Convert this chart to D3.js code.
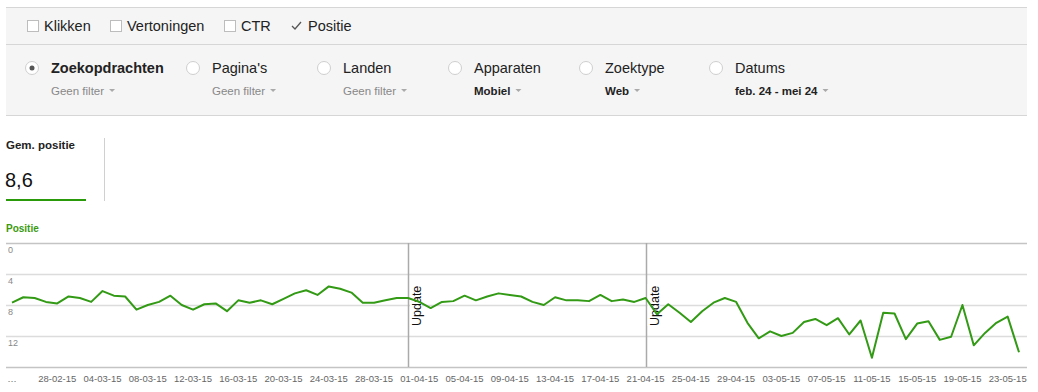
<!DOCTYPE html>
<html>
<head>
<meta charset="utf-8">
<script src="https://cdn.jsdelivr.net/npm/d3@7"></script>
<style>
  body { margin: 0; background: #fff; font-family: Arial, "Liberation Sans", sans-serif; }
</style>
</head>
<body>
<svg id="chart" width="1038" height="392"></svg>
<script>
// metric checkboxes on top
var metrics = ["Klikken", "Vertoningen", "CTR", "Positie"];
var metricOn = [false, false, false, true];

// filter groups (radio row)
var groups = ["Zoekopdrachten", "Pagina's", "Landen", "Apparaten", "Zoektype", "Datums"];
var groupFilters = ["Geen filter", "Geen filter", "Geen filter", "Mobiel", "Web", "feb. 24 - mei 24"];

// daily average position, 24-02-15 .. 24-05-15
var positions = [
  7.7, 7.0, 7.1, 7.6, 7.8, 6.9, 7.1, 7.6, 6.2, 6.8,
  6.9, 8.6, 8.0, 7.6, 6.8, 8.0, 8.6, 7.9, 7.8, 8.8,
  7.4, 7.7, 7.4, 7.9, 7.2, 6.5, 6.1, 6.7, 5.6, 5.9,
  6.4, 7.7, 7.7, 7.4, 7.1, 7.1, 7.6, 8.4, 7.6, 7.5,
  6.8, 7.4, 6.9, 6.5, 6.7, 6.9, 7.6, 8.0, 7.0, 7.4,
  7.4, 7.5, 6.7, 7.5, 7.3, 7.6, 7.1, 9.2, 7.9, 9.0,
  10.2, 8.8, 7.7, 7.1, 7.6, 10.3, 12.3, 11.4, 12.0, 11.6,
  10.2, 9.8, 10.6, 9.7, 11.8, 10.0, 14.8, 9.0, 9.1, 12.4,
  10.4, 10.1, 12.5, 12.1, 8.0, 13.2, 11.6, 10.3, 9.5, 14.1
];
var days = d3.utcDay.range(new Date(Date.UTC(2015, 1, 24)), new Date(Date.UTC(2015, 4, 25)));

var yTicks = [0, 4, 8, 12];
var tickDates = ["28-02-15", "04-03-15", "08-03-15", "12-03-15", "16-03-15", "20-03-15",
  "24-03-15", "28-03-15", "01-04-15", "05-04-15", "09-04-15", "13-04-15", "17-04-15",
  "21-04-15", "25-04-15", "29-04-15", "03-05-15", "07-05-15", "11-05-15", "15-05-15",
  "19-05-15", "23-05-15"];
var updates = ["31-03-15", "21-04-15"];
var avgLabel = "Gem. positie";
var avgValue = "8,6";

var parse = d3.utcParse("%d-%m-%y");
var fmt = d3.utcFormat("%d-%m-%y");

var svg = d3.select("#chart");
var grey = "#f5f5f5";

// --- top panels ---
svg.append("rect").attr("x", 6).attr("y", 7).attr("width", 1021).attr("height", 108).attr("fill", grey);
svg.append("line").attr("x1", 6).attr("x2", 1027).attr("y1", 7.5).attr("y2", 7.5).attr("stroke", "#d6d6d6");
svg.append("line").attr("x1", 6).attr("x2", 1027).attr("y1", 44.5).attr("y2", 44.5).attr("stroke", "#d6d6d6");
svg.append("line").attr("x1", 6).attr("x2", 1027).attr("y1", 115.5).attr("y2", 115.5).attr("stroke", "#d6d6d6");

var metricX = [27, 110, 224, 291];
var m = svg.selectAll("g.metric").data(metrics).enter().append("g")
  .attr("transform", function(d, i) { return "translate(" + metricX[i] + ",0)"; });
m.filter(function(d, i) { return !metricOn[i]; }).append("rect")
  .attr("x", 0.5).attr("y", 20.5).attr("width", 11).attr("height", 11)
  .attr("fill", "#fff").attr("stroke", "#bdbdbd");
m.filter(function(d, i) { return metricOn[i]; }).append("path")
  .attr("d", "M1,26 L4,29 L10,22").attr("fill", "none").attr("stroke", "#555").attr("stroke-width", 1.3);
m.append("text").attr("x", 17).attr("y", 31).attr("font-size", "14.5px").attr("fill", "#222").text(function(d) { return d; });

var groupX = [26, 187, 318, 449, 580, 710];
var g = svg.selectAll("g.grp").data(groups).enter().append("g")
  .attr("transform", function(d, i) { return "translate(" + groupX[i] + ",0)"; });
g.append("circle").attr("cx", 6).attr("cy", 68).attr("r", 6.5)
  .attr("fill", "#fff").attr("stroke", "#cfcfcf");
g.filter(function(d, i) { return i == 0; }).append("circle").attr("cx", 6).attr("cy", 68).attr("r", 2.5).attr("fill", "#555");
g.append("text").attr("x", 25).attr("y", 73).attr("font-size", "14.5px")
  .attr("font-weight", function(d, i) { return i == 0 ? "bold" : "normal"; })
  .attr("fill", "#222").text(function(d) { return d; });
var sub = g.append("text").attr("x", 25).attr("y", 95).attr("font-size", "11.5px")
  .attr("font-weight", function(d, i) { return i >= 3 ? "bold" : "normal"; })
  .attr("fill", function(d, i) { return i >= 3 ? "#222" : "#888"; })
  .text(function(d, i) { return groupFilters[i]; });
// small dropdown arrows
sub.each(function() {
  var w = this.getComputedTextLength();
  d3.select(this.parentNode).append("path")
    .attr("d", "M" + (25 + w + 5) + ",89 l6,0 l-3,3 z").attr("fill", "#aaa");
});

// --- average block ---
svg.append("text").attr("x", 6).attr("y", 149).attr("font-size", "11.5px").attr("font-weight", "bold").attr("fill", "#222").text(avgLabel);
svg.append("text").attr("x", 5).attr("y", 187).attr("font-size", "20px").attr("fill", "#111").text(avgValue);
svg.append("rect").attr("x", 6).attr("y", 199).attr("width", 80).attr("height", 2).attr("fill", "#2a9a0a");
svg.append("line").attr("x1", 104.5).attr("x2", 104.5).attr("y1", 138).attr("y2", 201).attr("stroke", "#d0d0d0");
svg.append("text").attr("x", 6).attr("y", 232).attr("font-size", "10px").attr("font-weight", "bold").attr("fill", "#3a9a10").text("Positie");

// --- chart ---
var x = d3.scaleUtc().domain([days[0], days[days.length - 1]]).range([12, 1019]);
var y = d3.scaleLinear().domain([0, 16]).range([243, 367]);

svg.append("g").selectAll("line").data(yTicks.concat([16])).enter().append("line")
  .attr("x1", 6).attr("x2", 1027)
  .attr("y1", function(d) { return Math.round(y(d)) + 0.5; })
  .attr("y2", function(d) { return Math.round(y(d)) + 0.5; })
  .attr("stroke", function(d) { return (d == 0 || d == 16) ? "#c4c4c4" : "#dcdcdc"; })
  .attr("stroke-width", function(d) { return (d == 0 || d == 16) ? 1.5 : 1.5; });
svg.append("g").selectAll("text").data(yTicks).enter().append("text")
  .attr("x", 8).attr("y", function(d) { return y(d) + 10; })
  .attr("font-size", "9px").attr("fill", "#888").text(function(d) { return d; });

// x labels
var xt = svg.append("g").attr("font-size", "9.5px").attr("fill", "#666").attr("text-anchor", "middle");
xt.selectAll("text").data(tickDates).enter().append("text")
  .attr("x", function(d) { return x(parse(d)); }).attr("y", 382).text(function(d) { return d; });
xt.append("text").attr("x", x(days[0])).attr("y", 382).text("…");

// update markers
var up = svg.append("g").selectAll("g").data(updates).enter().append("g");
up.append("line")
  .attr("x1", function(d) { return Math.round(x(parse(d))) + 0.5; })
  .attr("x2", function(d) { return Math.round(x(parse(d))) + 0.5; })
  .attr("y1", 243).attr("y2", 367).attr("stroke", "#aaa").attr("stroke-width", 1.5);

var line = d3.line()
  .x(function(d, i) { return x(days[i]); })
  .y(function(d) { return y(d); });
svg.append("path").datum(positions).attr("d", line)
  .attr("fill", "none").attr("stroke", "#329a14").attr("stroke-width", 2).attr("stroke-linejoin", "round");

up.append("rect")
  .attr("x", function(d) { return x(parse(d)) + 2; }).attr("y", 284)
  .attr("width", 12).attr("height", 42).attr("fill", "#fff");
up.append("text")
  .attr("transform", function(d) { return "translate(" + (x(parse(d)) + 13) + ",326) rotate(-90)"; })
  .attr("font-size", "12.5px").attr("fill", "#111").text("Update");
</script>
</body>
</html>
